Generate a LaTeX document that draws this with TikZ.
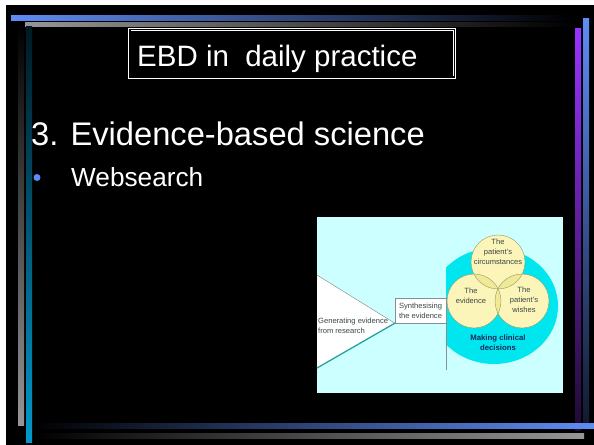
\documentclass[tikz,border=0pt]{standalone}
\usepackage{fontspec}
\setmainfont{Liberation Sans}
\usetikzlibrary{positioning}

\definecolor{bar blue}{RGB}{95,140,245}
\definecolor{bar gray}{RGB}{150,150,150}
\definecolor{left blue}{RGB}{0,153,204}
\definecolor{left blue top}{RGB}{0,25,35}
\definecolor{bar purple}{RGB}{153,51,255}
\definecolor{bar purple dark}{RGB}{30,10,50}
\definecolor{right blue dark}{RGB}{18,26,48}
\definecolor{bullet blue}{RGB}{91,140,245}
\definecolor{panel bg}{RGB}{204,255,255}
\definecolor{blob cyan}{RGB}{0,230,238}
\definecolor{venn light}{RGB}{252,245,185}
\definecolor{venn mid}{RGB}{240,234,150}
\definecolor{venn dark}{RGB}{225,220,110}
\definecolor{venn line}{RGB}{150,150,100}
\definecolor{teal line}{RGB}{40,160,160}
\definecolor{box line}{RGB}{130,145,145}
\definecolor{fig text}{RGB}{60,70,70}
\definecolor{decision blue}{RGB}{20,40,90}

\tikzset{
    % Slide text
    slide text/.style={text=white,inner sep=0pt,anchor=base west},
    title frame/.style={draw=white,double=black,double distance=1.6bp,line width=0.9bp},
    %
    % Figure
    fig text/.style={text=fig text,inner sep=0pt,align=center,font=\fontsize{7.6}{10}\selectfont},
    synth box/.style={draw=box line,fill=white,thin,minimum width=51bp,minimum height=25bp,inner sep=0pt},
    venn circle/.style={draw=venn line,thin},
    upper edge/.style={draw=gray,thin},
    lower edge/.style={draw=teal line,line width=1.3bp}
}

\begin{document}
\begin{tikzpicture}[x=1bp,y=-1bp]
    \useasboundingbox (0,0) rectangle (594,445);
    \fill[white] (0,0) rectangle (594,445);
    \fill[black] (6,5) rectangle (594,445);

    % frame bars
    \shade[left color=bar blue,right color=black] (11,16) rectangle (574,21);
    \shade[left color=bar gray,right color=black] (25,23) rectangle (574,27);
    \shade[top color=black,bottom color=bar gray] (18,23) rectangle (24,425);
    \shade[top color=left blue top,bottom color=left blue] (26,27) rectangle (32,442);
    \shade[top color=bar purple,bottom color=bar purple dark] (575,29) rectangle (581,430);
    \shade[top color=bar blue,bottom color=right blue dark] (583,19) rectangle (589,423);
    \shade[left color=black,right color=bar blue] (33,423) rectangle (594,428);
    \shade[left color=black,right color=bar gray] (33,433) rectangle (584,438);

    % title and text
    \draw[title frame] (129.7,29.7) rectangle (454.3,77.3);
    \node[slide text,font=\fontsize{29.6}{34}\selectfont] (title) at (137,67) {EBD in~ daily practice};
    \node[slide text,font=\fontsize{32.8}{38}\selectfont] (heading) at (31,146) {3. Evidence-based science};
    \fill[bullet blue] (37,177.5) circle[radius=3.5];
    \node[slide text,font=\fontsize{26.3}{30}\selectfont] (websearch) at (71,187) {Websearch};

    % figure
    \fill[panel bg] (317,217) rectangle (563,393);
    \begin{scope}
        \clip (446,217) rectangle (563,393);
        \fill[blob cyan] (494,306) ellipse[x radius=64,y radius=58];
    \end{scope}

    \node[synth box] (synth) at (420.5,310.5) {};
    \coordinate (gen top) at (317,275);
    \coordinate (gen bot) at (317,368);
    \fill[white] (gen top) -- (synth.south west) -- (gen bot) -- cycle;
    \draw[upper edge] (gen top) -- (synth.south west);
    \draw[lower edge] (synth.south west) -- (gen bot);
    \coordinate[below=47bp of synth.south east] (tick);
    \draw[draw=box line,very thin] (synth.south east) -- (tick);

    \coordinate (c top) at (498,262);
    \coordinate (c left) at (474,301);
    \coordinate (c right) at (522,301);
    \foreach \c in {c top,c left,c right}
        \fill[venn light] (\c) circle[radius=27];
    \begin{scope}
        \clip (c top) circle[radius=27];
        \fill[venn mid] (c left) circle[radius=27];
        \fill[venn mid] (c right) circle[radius=27];
    \end{scope}
    \begin{scope}
        \clip (c left) circle[radius=27];
        \fill[venn mid] (c right) circle[radius=27];
    \end{scope}
    \begin{scope}
        \clip (c top) circle[radius=27];
        \clip (c left) circle[radius=27];
        \fill[venn dark] (c right) circle[radius=27];
    \end{scope}
    \foreach \c in {c top,c left,c right}
        \draw[venn circle] (\c) circle[radius=27];

    \node[fig text] (circumstances) at (498,252) {The\\patient's\\circumstances};
    \node[fig text] (evidence) at (471,296) {The\\evidence};
    \node[fig text] (wishes) at (524,300) {The\\patient's\\wishes};
    \node[fig text,text=decision blue,font=\bfseries\fontsize{7.8}{9.5}\selectfont] (decisions) at (498,342.5) {Making clinical\\decisions};
    \node[fig text] (synth label) at (synth.center) {Synthesising\\the evidence};
    \node[fig text,align=left,anchor=west] (generating) at (318,325.5) {Generating evidence\\from research};
\end{tikzpicture}
\end{document}
